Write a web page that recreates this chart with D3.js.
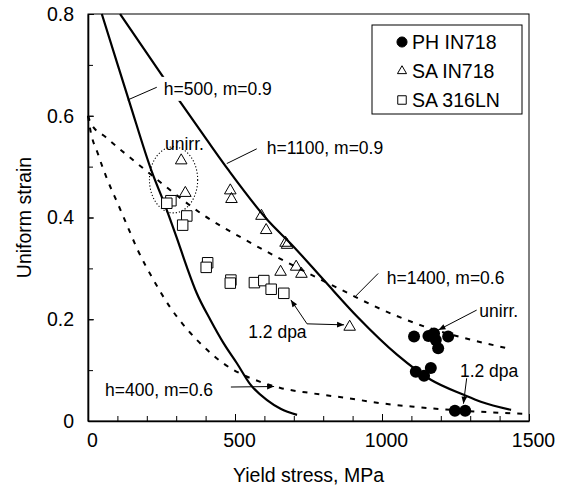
<!DOCTYPE html>
<html>
<head>
<meta charset="utf-8">
<script src="https://cdnjs.cloudflare.com/ajax/libs/d3/7.8.5/d3.min.js"></script>
<style>
  body { margin: 0; background: #fff; }
  svg { font-family: "Liberation Sans", Arial, Helvetica, sans-serif; }
</style>
</head>
<body>
<svg id="chart" width="565" height="486"></svg>
<script>
// ---- data ----
var phStress = [1109, 1158, 1177, 1183, 1225, 1191, 1115, 1143, 1166, 1248, 1283];
var phStrain = [0.166, 0.167, 0.172, 0.159, 0.166, 0.143, 0.097, 0.089, 0.104, 0.020, 0.020];

var saStress = [317, 331, 484, 488, 590, 606, 672, 677, 655, 708, 726, 890];
var saStrain = [0.512, 0.448, 0.453, 0.436, 0.403, 0.375, 0.350, 0.346, 0.293, 0.303, 0.289, 0.185];

var lnStress = [282, 268, 336, 322, 407, 402, 486, 484, 566, 598, 623, 666];
var lnStrain = [0.433, 0.428, 0.403, 0.385, 0.311, 0.302, 0.277, 0.271, 0.272, 0.276, 0.259, 0.251];

// model curves (stress, strain)
var h500Stress  = [47, 100, 143, 217, 262, 302, 336, 370, 416, 461, 507, 552, 609, 655, 711];
var h500Strain  = [0.8, 0.702, 0.623, 0.490, 0.424, 0.360, 0.303, 0.251, 0.199, 0.153, 0.113, 0.072, 0.041, 0.024, 0.012];

var h1100Stress = [109, 257, 313, 405, 478, 620, 689, 802, 916, 1052, 1166, 1280, 1336, 1439];
var h1100Strain = [0.8, 0.675, 0.628, 0.552, 0.493, 0.389, 0.349, 0.277, 0.205, 0.130, 0.081, 0.051, 0.038, 0.022];

var h1400Stress = [0, 10, 60, 130, 200, 262, 392, 529, 700, 882, 973, 1143, 1300, 1427];
var h1400Strain = [0.600, 0.585, 0.558, 0.524, 0.491, 0.462, 0.405, 0.358, 0.305, 0.252, 0.226, 0.186, 0.160, 0.143];

var h400Stress  = [0, 7, 35, 64, 103, 137, 166, 223, 280, 336, 405, 461, 530, 586, 655, 768, 882, 995, 1109, 1280, 1495];
var h400Strain  = [0.600, 0.575, 0.523, 0.477, 0.425, 0.379, 0.340, 0.277, 0.223, 0.181, 0.140, 0.113, 0.090, 0.077, 0.065, 0.054, 0.045, 0.035, 0.028, 0.020, 0.014];

var xTicks = [0, 500, 1000, 1500];
var xTickLabels = ["0", "500", "1000", "1500"];
var yTicks = [0, 0.2, 0.4, 0.6, 0.8];
var yTickLabels = ["0", "0.2", "0.4", "0.6", "0.8"];

var legendLabels = ["PH IN718", "SA IN718", "SA 316LN"];

function zip(a, b) { return a.map(function(v, i) { return [v, b[i]]; }); }

// ---- layout ----
var svg = d3.select("#chart");
var plotL = 88, plotR = 529, plotT = 14, plotB = 421;

var x = d3.scaleLinear().domain([0, 1500]).range([plotL, plotR]);
var y = d3.scaleLinear().domain([0, 0.8]).range([plotB, plotT]);

// arrow head
svg.append("defs").append("marker")
    .attr("id", "arrow")
    .attr("viewBox", "0 0 10 10")
    .attr("refX", 10).attr("refY", 5)
    .attr("markerWidth", 9).attr("markerHeight", 7)
    .attr("markerUnits", "userSpaceOnUse")
    .attr("orient", "auto-start-reverse")
    .append("path")
    .attr("d", "M0,1 L10,5 L0,9 z")
    .attr("fill", "#000");

// frame (top and right)
svg.append("rect")
    .attr("x", plotL).attr("y", plotT)
    .attr("width", plotR - plotL).attr("height", plotB - plotT)
    .attr("fill", "none").attr("stroke", "#000").attr("stroke-width", 1);

// x axis: minor ticks, then major ticks with labels
svg.append("g")
    .attr("transform", "translate(0," + plotB + ")")
    .call(d3.axisBottom(x).tickValues(d3.range(0, 1501, 100)).tickSize(-5).tickSizeOuter(0).tickFormat(""))
    .call(function(g) { g.select(".domain").remove(); });

var xAxisG = svg.append("g")
    .attr("transform", "translate(0," + plotB + ")")
    .call(d3.axisBottom(x).tickValues(xTicks).tickSize(-7).tickSizeOuter(0).tickPadding(12)
        .tickFormat(function(d, i) { return xTickLabels[i]; }));
xAxisG.select(".domain").attr("stroke-width", 1.6);
xAxisG.selectAll("text").attr("font-size", "19.5px").attr("fill", "#000").attr("dx", 4)
    .attr("font-family", "'Liberation Sans', Arial, sans-serif");

// y axis
svg.append("g")
    .attr("transform", "translate(" + plotL + ",0)")
    .call(d3.axisLeft(y).tickValues(d3.range(0, 0.81, 0.1)).tickSize(-5).tickSizeOuter(0).tickFormat(""))
    .call(function(g) { g.select(".domain").remove(); });

var yAxisG = svg.append("g")
    .attr("transform", "translate(" + plotL + ",0)")
    .call(d3.axisLeft(y).tickValues(yTicks).tickSize(-6).tickSizeOuter(0).tickPadding(14)
        .tickFormat(function(d, i) { return yTickLabels[i]; }));
yAxisG.select(".domain").attr("stroke-width", 1.6);
yAxisG.selectAll("text").attr("font-size", "19.5px").attr("fill", "#000")
    .attr("font-family", "'Liberation Sans', Arial, sans-serif");

// axis titles
svg.append("text")
    .attr("x", (plotL + plotR) / 2).attr("y", 482)
    .attr("text-anchor", "middle").attr("font-size", "19.5px")
    .text("Yield stress, MPa");

svg.append("text")
    .attr("transform", "translate(31," + ((plotT + plotB) / 2) + ") rotate(-90)")
    .attr("text-anchor", "middle").attr("font-size", "19.5px")
    .text("Uniform strain");

// ---- model curves ----
var line = d3.line()
    .x(function(d) { return x(d[0]); })
    .y(function(d) { return y(d[1]); })
    .curve(d3.curveMonotoneX);

var curves = [
    { pts: zip(h500Stress, h500Strain), dash: null },
    { pts: zip(h1100Stress, h1100Strain), dash: null },
    { pts: zip(h1400Stress, h1400Strain), dash: "5,7" },
    { pts: zip(h400Stress, h400Strain), dash: "5,7" }
];

svg.append("g").selectAll("path")
    .data(curves)
    .enter()
    .append("path")
    .attr("d", function(d) { return line(d.pts); })
    .attr("fill", "none")
    .attr("stroke", "#000")
    .attr("stroke-width", function(d) { return d.dash ? 2 : 2.2; })
    .attr("stroke-dasharray", function(d) { return d.dash; });

// dotted ellipse around unirradiated 316LN / IN718
svg.append("ellipse")
    .attr("cx", x(291)).attr("cy", y(0.474))
    .attr("rx", x(82) - x(0)).attr("ry", y(0) - y(0.065))
    .attr("fill", "none").attr("stroke", "#000")
    .attr("stroke-width", 1.1).attr("stroke-dasharray", "1.2,2");

// ---- annotations ----
var notes = [
    { text: "h=500, m=0.9",  at: [258, 0.641], bg: true },
    { text: "h=1100, m=0.9", at: [608, 0.525] },
    { text: "h=1400, m=0.6", at: [1016, 0.269] },
    { text: "h=400, m=0.6",  at: [58, 0.049] },
    { text: "unirr.",        at: [262, 0.533] },
    { text: "unirr.",        at: [1331, 0.204] },
    { text: "1.2 dpa",       at: [545, 0.163] },
    { text: "1.2 dpa",       at: [1265, 0.086] }
];

var noteG = svg.append("g");
notes.forEach(function(n) {
    var t = noteG.append("text")
        .attr("x", x(n.at[0])).attr("y", y(n.at[1]))
        .attr("font-size", "17.5px")
        .text(n.text);
    if (n.bg) {
        var b = t.node().getBBox();
        noteG.insert("rect", function() { return t.node(); })
            .attr("x", b.x - 3).attr("y", b.y - 2)
            .attr("width", b.width + 6).attr("height", b.height + 4)
            .attr("fill", "#fff");
    }
});

var leaders = [
    { pts: [[135, 0.631], [234, 0.656]], arrow: false },
    { pts: [[472, 0.506], [574, 0.535]], arrow: false },
    { pts: [[908, 0.244], [987, 0.290]], arrow: false },
    { pts: [[486, 0.0668], [633, 0.0678]], arrow: true },
    { pts: [[1322, 0.218], [1192, 0.179]], arrow: true },
    { pts: [[690, 0.238], [745, 0.191], [871, 0.189]], arrow: true, both: true },
    { pts: [[1288, 0.084], [1277, 0.034]], arrow: true }
];

var straight = d3.line()
    .x(function(d) { return x(d[0]); })
    .y(function(d) { return y(d[1]); });

svg.append("g").selectAll("path")
    .data(leaders)
    .enter()
    .append("path")
    .attr("d", function(d) { return straight(d.pts); })
    .attr("fill", "none")
    .attr("stroke", "#000")
    .attr("stroke-width", 1)
    .attr("marker-end", function(d) { return d.arrow ? "url(#arrow)" : null; })
    .attr("marker-start", function(d) { return d.both ? "url(#arrow)" : null; });

// ---- data points ----
var triSym = d3.symbol().type(d3.symbolTriangle).size(58);
var sqSym = d3.symbol().type(d3.symbolSquare).size(110);

svg.append("g").selectAll("path")
    .data(zip(lnStress, lnStrain))
    .enter()
    .append("path")
    .attr("d", sqSym)
    .attr("transform", function(d) { return "translate(" + x(d[0]) + "," + y(d[1]) + ")"; })
    .attr("fill", "#fff").attr("stroke", "#000").attr("stroke-width", 1);

svg.append("g").selectAll("path")
    .data(zip(saStress, saStrain))
    .enter()
    .append("path")
    .attr("d", triSym)
    .attr("transform", function(d) { return "translate(" + x(d[0]) + "," + y(d[1]) + ")"; })
    .attr("fill", "none").attr("stroke", "#000").attr("stroke-width", 1);

svg.append("g").selectAll("circle")
    .data(zip(phStress, phStrain))
    .enter()
    .append("circle")
    .attr("cx", function(d) { return x(d[0]); })
    .attr("cy", function(d) { return y(d[1]); })
    .attr("r", 6)
    .attr("fill", "#000");

// ---- legend ----
var legend = svg.append("g").attr("transform", "translate(372,25)");
legend.append("rect")
    .attr("width", 150).attr("height", 89)
    .attr("fill", "#fff").attr("stroke", "#000").attr("stroke-width", 1);

var legendSym = [
    d3.symbol().type(d3.symbolCircle).size(80),
    d3.symbol().type(d3.symbolTriangle).size(36),
    d3.symbol().type(d3.symbolSquare).size(72)
];

var rows = legend.selectAll("g.row")
    .data(legendLabels)
    .enter()
    .append("g")
    .attr("class", "row")
    .attr("transform", function(d, i) { return "translate(0," + (17 + i * 29) + ")"; });

rows.append("path")
    .attr("transform", "translate(30,0)")
    .attr("d", function(d, i) { return legendSym[i](); })
    .attr("fill", function(d, i) { return i === 0 ? "#000" : "#fff"; })
    .attr("stroke", "#000").attr("stroke-width", 1);

rows.append("text")
    .attr("x", 40).attr("y", 7)
    .attr("font-size", "19.5px")
    .text(function(d) { return d; });
</script>
</body>
</html>
